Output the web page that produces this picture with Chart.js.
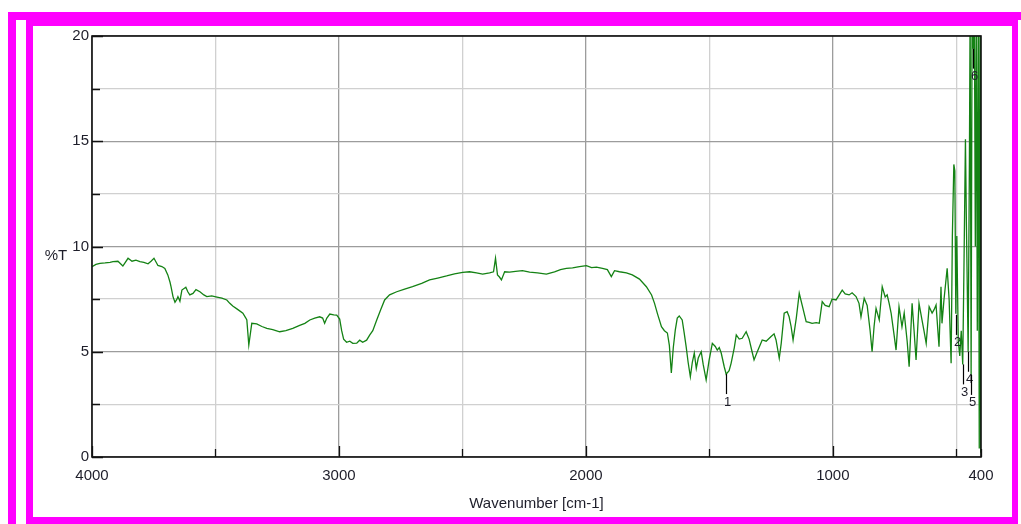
<!DOCTYPE html>
<html lang="en">
<head>
    <meta charset="UTF-8" />
    <title>IR spectrum</title>
    <script src="https://cdn.jsdelivr.net/npm/chart.js"></script>
    <style>
        body { margin: 0; background: #fff; width: 1021px; height: 524px; overflow: hidden; position: relative; }
        #irChart { position: absolute; left: 0; top: 0; }
        .frame { position: absolute; background: #ff00ff; }
    </style>
</head>
<body>
    <div class="frame" style="left:8px;top:12px;width:1013px;height:8px"></div>
    <div class="frame" style="left:26px;top:20px;width:992px;height:6px"></div>
    <div class="frame" style="left:8px;top:12px;width:8px;height:512px"></div>
    <div class="frame" style="left:26px;top:20px;width:7px;height:504px"></div>
    <div class="frame" style="left:26px;top:517px;width:992px;height:7px"></div>
    <div class="frame" style="left:1012px;top:20px;width:6px;height:504px"></div>
    <canvas id="irChart" width="1021" height="524"></canvas>

    <script>
        // spectrum (wavenumber cm-1, %T)
        const wavenumbers = [
            4000, 3984, 3968, 3947, 3927, 3915, 3895, 3875, 3854, 3838,
            3822, 3806, 3790, 3773, 3761, 3749, 3733, 3717, 3705, 3693,
            3684, 3680, 3672, 3664, 3656, 3652, 3644, 3636, 3620, 3612,
            3604, 3591, 3579, 3563, 3547, 3535, 3515, 3494, 3474, 3454,
            3442, 3430, 3409, 3389, 3377, 3373, 3365, 3357, 3353, 3333,
            3312, 3292, 3268, 3240, 3215, 3187, 3159, 3138, 3118, 3098,
            3078, 3066, 3058, 3049, 3037, 3021, 3009, 2997, 2989, 2981,
            2969, 2956, 2944, 2928, 2916, 2904, 2888, 2875, 2863, 2847,
            2831, 2815, 2795, 2766, 2734, 2702, 2665, 2633, 2600, 2564,
            2532, 2499, 2471, 2443, 2418, 2390, 2374, 2366, 2358, 2350,
            2342, 2329, 2309, 2285, 2257, 2228, 2196, 2160, 2127, 2103,
            2079, 2054, 2026, 1998, 1977, 1957, 1933, 1913, 1897, 1884,
            1864, 1836, 1812, 1783, 1755, 1734, 1722, 1710, 1694, 1682,
            1670, 1662, 1654, 1646, 1638, 1630, 1622, 1610, 1602, 1594,
            1586, 1577, 1569, 1561, 1553, 1545, 1533, 1525, 1513, 1501,
            1488, 1476, 1468, 1460, 1452, 1440, 1432, 1420, 1412, 1399,
            1391, 1379, 1367, 1351, 1339, 1327, 1319, 1306, 1286, 1270,
            1250, 1238, 1230, 1217, 1209, 1197, 1185, 1177, 1169, 1161,
            1148, 1136, 1124, 1108, 1096, 1084, 1067, 1055, 1043, 1031,
            1015, 1003, 987, 974, 962, 950, 934, 922, 906, 894,
            886, 873, 861, 849, 841, 833, 825, 812, 800, 788,
            780, 772, 764, 752, 744, 732, 720, 711, 699, 691,
            679, 671, 663, 651, 639, 631, 622, 610, 598, 590,
            582, 570, 562, 558, 550, 537, 529, 521, 516, 510,
            506, 502, 498, 492, 486, 480, 474, 469, 463, 459,
            452, 447, 444, 440, 436, 431, 427, 423, 419, 415,
            411, 407, 404, 401
        ];
        const transmittance = [
            9.04, 9.15, 9.20, 9.22, 9.25, 9.28, 9.30, 9.07, 9.44, 9.30,
            9.35, 9.28, 9.25, 9.18, 9.30, 9.44, 9.10, 9.05, 8.96, 8.65,
            8.30, 8.09, 7.62, 7.35, 7.50, 7.62, 7.40, 7.93, 8.06, 7.85,
            7.70, 7.77, 7.95, 7.85, 7.70, 7.62, 7.65, 7.60, 7.55, 7.46,
            7.30, 7.17, 7.00, 6.83, 6.60, 6.51, 5.32, 6.00, 6.35, 6.32,
            6.20, 6.11, 6.05, 5.95, 6.00, 6.11, 6.25, 6.35, 6.51, 6.60,
            6.66, 6.60, 6.35, 6.60, 6.79, 6.75, 6.74, 6.55, 6.00, 5.60,
            5.45, 5.50, 5.40, 5.41, 5.55, 5.45, 5.55, 5.80, 6.00, 6.51,
            7.00, 7.46, 7.70, 7.85, 7.98, 8.09, 8.25, 8.41, 8.50, 8.60,
            8.70, 8.77, 8.80, 8.75, 8.69, 8.75, 8.80, 9.44, 8.65, 8.55,
            8.41, 8.80, 8.78, 8.82, 8.85, 8.78, 8.75, 8.69, 8.80, 8.90,
            8.96, 8.98, 9.04, 9.09, 9.00, 9.02, 8.96, 8.90, 8.57, 8.85,
            8.80, 8.75, 8.65, 8.45, 8.09, 7.70, 7.30, 6.80, 6.19, 6.00,
            5.89, 5.30, 3.99, 5.20, 6.03, 6.60, 6.70, 6.51, 5.90, 5.24,
            4.50, 3.81, 4.50, 4.94, 4.21, 4.70, 5.00, 4.40, 3.66, 4.60,
            5.40, 5.25, 5.08, 5.20, 4.94, 4.30, 3.94, 4.10, 4.45, 5.20,
            5.80, 5.60, 5.64, 5.95, 5.60, 5.00, 4.61, 5.00, 5.56, 5.50,
            5.72, 5.85, 5.56, 4.69, 5.40, 6.83, 6.90, 6.66, 6.20, 5.56,
            6.60, 7.78, 7.20, 6.43, 6.40, 6.35, 6.38, 6.35, 7.38, 7.20,
            7.14, 7.50, 7.46, 7.70, 7.93, 7.75, 7.70, 7.80, 7.62, 7.30,
            6.66, 7.54, 7.20, 6.00, 5.00, 6.20, 7.06, 6.51, 8.09, 7.60,
            7.70, 7.30, 6.84, 5.80, 5.08, 7.14, 6.19, 6.84, 5.50, 4.29,
            7.30, 6.00, 4.61, 7.30, 6.51, 6.00, 5.40, 7.14, 6.84, 7.00,
            7.22, 5.24, 8.09, 6.35, 7.46, 8.96, 7.46, 4.45, 10.5, 13.9,
            13.6, 6.80, 10.5, 5.50, 4.80, 6.00, 4.40, 9.00, 15.1, 11.0,
            5.00, 14.0, 21.5, 3.90, 21.5, 19.4, 21.5, 10.0, 21.5, 6.00,
            21.5, 0.40, 21.5, 0.20
        ];

        // picked peaks
        const peakNumbers = ['1', '2', '3', '4', '5', '6'];
        const peakWavenumbers = [1432, 502, 474, 452, 440, 431];
        const peakValues = [3.94, 6.75, 4.4, 5.0, 3.9, 19.4];

        const xTickValues = [4000, 3500, 3000, 2500, 2000, 1500, 1000, 500, 400];
        const xLabelled = [4000, 3000, 2000, 1000, 400];

        const textColor = '#1e1e2a';
        const fontFamily = '"Liberation Sans", Arial, sans-serif';

        const points = wavenumbers.map((w, i) => ({ x: w, y: transmittance[i] }));

        // frame, inner tick marks, %T label and peak markers
        const decorations = {
            id: 'decorations',
            afterDatasetsDraw(chart) {
                const { ctx, chartArea, scales } = chart;
                const xs = scales.x, ys = scales.y;
                ctx.save();

                // peak markers
                ctx.strokeStyle = '#000';
                ctx.lineWidth = 1.2;
                ctx.fillStyle = textColor;
                ctx.font = '13px ' + fontFamily;
                ctx.textAlign = 'center';
                ctx.textBaseline = 'middle';
                peakNumbers.forEach((label, i) => {
                    const px = Math.round(xs.getPixelForValue(peakWavenumbers[i])) + 0.5;
                    const py = ys.getPixelForValue(peakValues[i]);
                    ctx.beginPath();
                    ctx.moveTo(px, py);
                    ctx.lineTo(px, py + 20);
                    ctx.stroke();
                    ctx.fillText(label, px + 1, py + 28);
                });

                // plot frame
                ctx.strokeStyle = '#111';
                ctx.lineWidth = 1.6;
                ctx.strokeRect(chartArea.left, chartArea.top,
                    chartArea.right - chartArea.left, chartArea.bottom - chartArea.top);

                // tick marks pointing inwards
                ctx.lineWidth = 1.3;
                ctx.beginPath();
                ys.ticks.forEach(t => {
                    const py = Math.round(ys.getPixelForValue(t.value)) + 0.5;
                    const len = t.value % 5 === 0 ? 11 : 8;
                    ctx.moveTo(chartArea.left, py);
                    ctx.lineTo(chartArea.left + len, py);
                });
                xs.ticks.forEach(t => {
                    const px = Math.round(xs.getPixelForValue(t.value)) + 0.5;
                    const len = t.value % 1000 === 0 ? 11 : 8;
                    ctx.moveTo(px, chartArea.bottom);
                    ctx.lineTo(px, chartArea.bottom - len);
                });
                ctx.stroke();

                // y axis name, written flat like the original
                ctx.fillStyle = textColor;
                ctx.font = '15px ' + fontFamily;
                ctx.textAlign = 'center';
                ctx.textBaseline = 'middle';
                ctx.fillText('%T', 56, 256);
                ctx.restore();
            }
        };

        new Chart(document.getElementById('irChart').getContext('2d'), {
            type: 'line',
            data: {
                datasets: [{
                    data: points,
                    borderColor: 'rgb(20,130,20)',
                    borderWidth: 1.3,
                    pointRadius: 0,
                    tension: 0,
                    fill: false
                }]
            },
            options: {
                responsive: false,
                animation: false,
                layout: { padding: { left: 0, top: 36, right: 40, bottom: 0 } },
                plugins: { legend: { display: false }, tooltip: { enabled: false } },
                scales: {
                    x: {
                        type: 'linear',
                        reverse: true,
                        min: 400,
                        max: 4000,
                        afterBuildTicks: scale => { scale.ticks = xTickValues.map(v => ({ value: v })); },
                        afterFit: scale => { scale.height = 67; },
                        border: { display: false },
                        grid: {
                            drawTicks: false,
                            lineWidth: 1.3,
                            color: c => c.tick.value % 1000 === 0 ? '#9c9c9c' : '#d0d0d0'
                        },
                        ticks: {
                            autoSkip: false,
                            maxRotation: 0,
                            padding: 10,
                            color: textColor,
                            font: { family: fontFamily, size: 15 },
                            callback: v => xLabelled.includes(v) ? String(v) : ''
                        },
                        title: {
                            display: true,
                            text: 'Wavenumber [cm-1]',
                            color: textColor,
                            font: { family: fontFamily, size: 15 },
                            padding: { top: 0, bottom: 11 }
                        }
                    },
                    y: {
                        min: 0,
                        max: 20,
                        afterFit: scale => { scale.width = 92; },
                        border: { display: false },
                        grid: {
                            drawTicks: false,
                            lineWidth: 1.3,
                            color: c => c.tick.value % 5 === 0 ? '#9c9c9c' : '#d0d0d0'
                        },
                        ticks: {
                            stepSize: 2.5,
                            padding: 3,
                            color: textColor,
                            font: { family: fontFamily, size: 15 },
                            callback: v => v % 5 === 0 ? String(v) : ''
                        }
                    }
                }
            },
            plugins: [decorations]
        });
    </script>
</body>
</html>
